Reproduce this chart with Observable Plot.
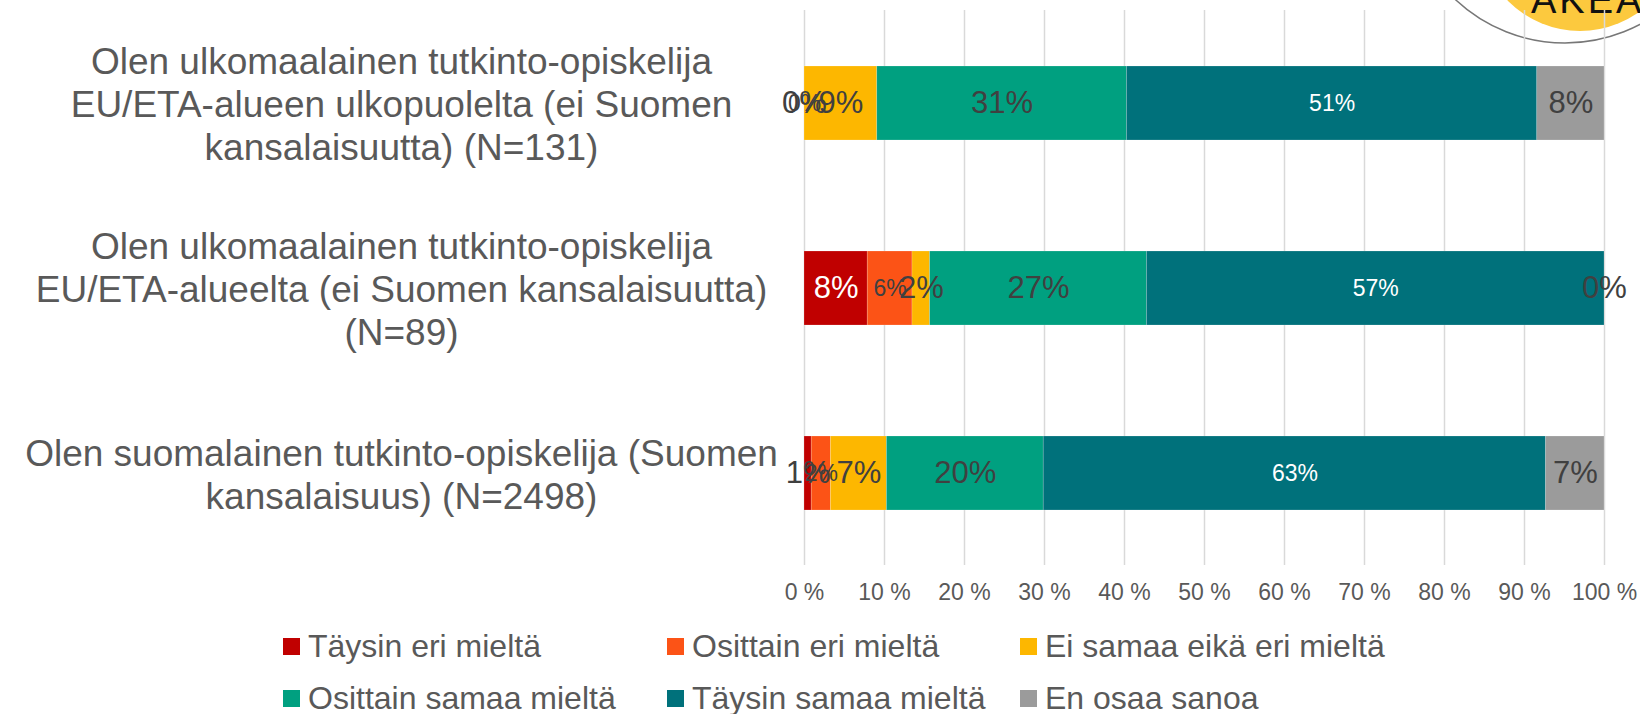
<!DOCTYPE html>
<html>
<head>
<meta charset="utf-8">
<script src="https://cdn.jsdelivr.net/npm/d3@7"></script>
<script src="https://cdn.jsdelivr.net/npm/@observablehq/plot@0.6"></script>
<style>
  html, body { margin: 0; padding: 0; background: #fff; }
  #wrap { position: relative; width: 1640px; height: 714px; overflow: hidden; font-family: "Liberation Sans", Arial, sans-serif; }
  #logo { position: absolute; left: 0; top: 0; }
  #chart { position: absolute; left: 0; top: 0; }
  #legend { position: absolute; left: 283px; top: 620px; display: grid; grid-template-columns: 384px 353px auto; grid-auto-rows: 52px; color: #595959; font-size: 32px; }
  .item { display: flex; align-items: center; white-space: nowrap; }
  .sw { width: 17px; height: 17px; margin-right: 8px; flex: none; }
</style>
</head>
<body>
<div id="wrap">
  <svg id="logo" width="1640" height="80">
    <circle cx="1580" cy="-70" r="101" fill="#FCC93E"></circle>
    <circle cx="1565" cy="-117" r="160" fill="none" stroke="#777" stroke-width="1.5"></circle>
    <text x="1531" y="13" font-family="Liberation Sans, Arial, sans-serif" font-size="38" letter-spacing="3" fill="#111">AKEA</text>
  </svg>
  <div id="chart"></div>
  <div id="legend"></div>
</div>
<script>
// Categories (wrapped as in the picture)
const groups = [
  "Olen ulkomaalainen tutkinto-opiskelija\nEU/ETA-alueen ulkopuolelta (ei Suomen\nkansalaisuutta) (N=131)",
  "Olen ulkomaalainen tutkinto-opiskelija\nEU/ETA-alueelta (ei Suomen kansalaisuutta)\n(N=89)",
  "Olen suomalainen tutkinto-opiskelija (Suomen\nkansalaisuus) (N=2498)"
];
const series = [
  "Täysin eri mieltä",
  "Osittain eri mieltä",
  "Ei samaa eikä eri mieltä",
  "Osittain samaa mieltä",
  "Täysin samaa mieltä",
  "En osaa sanoa"
];
// Series values (%), one per category
const taysinEri     = [0,    7.9,  0.9];
const osittainEri   = [0,    5.6,  2.4];
const eiSamaaEiEri  = [9.1,  2.2,  7.0];
const osittainSamaa = [31.2, 27.1, 19.6];
const taysinSamaa   = [51.3, 57.2, 62.8];
const enOsaa        = [8.4,  0,    7.3];
// Axis tick values
const xTicks = [0, 10, 20, 30, 40, 50, 60, 70, 80, 90, 100];

// Styles
const colors = ["#C00000", "#FC5316", "#FDB700", "#00A080", "#00717B", "#9B9B9B"];
const bigSeries = new Set([series[0], series[2], series[3], series[5]]);
const lightSeries = new Set([series[0], series[4]]);
const dark = "#404040";

const valuesBySeries = [taysinEri, osittainEri, eiSamaaEiEri, osittainSamaa, taysinSamaa, enOsaa];
const data = groups.flatMap((g, i) => series.map((s, j) => ({group: g, series: s, value: valuesBySeries[j][i]})));

const sizeOf = d => bigSeries.has(d.series) ? 31 : 23;
const fillOf = d => (lightSeries.has(d.series) && d.value >= 5) ? "white" : dark;

const labelMarks = [];
for (const size of [31, 23]) {
  for (const fill of ["white", dark]) {
    labelMarks.push(Plot.text(data, Plot.filter(d => sizeOf(d) === size && fillOf(d) === fill,
      Plot.stackX({x: "value", y: "group", z: "series", text: d => Math.round(d.value) + "%", fill, fontSize: size}))));
  }
}

const chart = Plot.plot({
  width: 1640,
  height: 620,
  marginLeft: 804,
  marginRight: 36,
  marginTop: 10,
  marginBottom: 55,
  style: {fontFamily: "'Liberation Sans', Arial, sans-serif", background: "transparent", color: "#595959"},
  x: {domain: [0, 100], axis: null},
  y: {domain: groups, paddingInner: 0.6, paddingOuter: 0.3, axis: null},
  color: {domain: series, range: colors},
  marks: [
    Plot.gridX(xTicks, {stroke: "#D9D9D9", strokeOpacity: 1, strokeWidth: 1.5}),
    Plot.barX(data, Plot.stackX({x: "value", y: "group", fill: "series", stroke: "white", strokeWidth: 0.6, strokeOpacity: 0.3})),
    ...labelMarks,
    Plot.axisX(xTicks, {tickSize: 0, tickPadding: 18, fontSize: 23, label: null, tickFormat: d => d + " %"}),
    Plot.axisY({tickSize: 0, tickPadding: 0, textAnchor: "middle", dx: -403, fontSize: 37, lineHeight: 1.155, label: null})
  ]
});
document.getElementById("chart").appendChild(chart);

const legend = document.getElementById("legend");
series.forEach((s, j) => {
  const item = document.createElement("div");
  item.className = "item";
  const sw = document.createElement("span");
  sw.className = "sw";
  sw.style.background = colors[j];
  const t = document.createElement("span");
  t.textContent = s;
  item.appendChild(sw);
  item.appendChild(t);
  legend.appendChild(item);
});
</script>
</body>
</html>
